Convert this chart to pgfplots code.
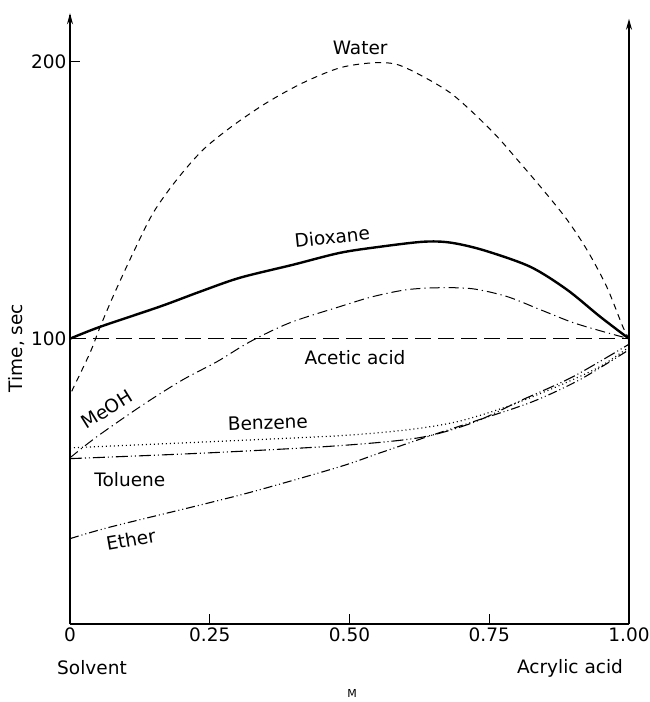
\documentclass[border=0pt]{standalone}
\usepackage{fontspec}
\setmainfont{DejaVu Sans}
\usepackage{pgfplots}
\pgfplotsset{compat=1.18}
\usetikzlibrary{arrows.meta}

\begin{document}
\begin{tikzpicture}[font=\fontsize{18.5}{20}\selectfont]
\useasboundingbox (-70pt,-78pt) rectangle (579pt,624pt);

\begin{axis}[
    at={(0,0)}, anchor=south west,
    scale only axis, width=559pt, height=609.4pt,
    xmin=0, xmax=1, ymin=-3, ymax=217,
    axis x line*=bottom, axis y line*=left,
    axis line style={line width=1.2pt},
    clip=false,
    xtick={0,0.25,0.5,0.75,1}, xticklabels={0,0.25,0.50,0.75,1.00},
    ytick={100,200}, yticklabels={100,200},
    tick align=inside, major tick length=10pt,
    tick style={line width=1pt, black},
    ticklabel style={font=\fontsize{18.5}{20}\selectfont},
    /pgf/number format/assume math mode=true,
]

% Water
\addplot[smooth, line width=1pt, dash pattern=on 6pt off 5pt] coordinates {
 (0.003,81) (0.036,95) (0.054,104.3) (0.080,116.6) (0.113,131) (0.149,145.5)
 (0.191,157.4) (0.238,168.2) (0.292,177) (0.352,185.2) (0.417,192.4)
 (0.483,197.8) (0.542,199.6) (0.585,199) (0.632,194.6) (0.680,188.8)
 (0.721,181.6) (0.764,173) (0.805,163.5) (0.846,153.8) (0.889,143)
 (0.925,132) (0.960,118.8) (0.989,104.3) (1,100)
};

% Dioxane
\addplot[smooth, line width=2.4pt] coordinates {
 (0,100) (0.054,104.3) (0.161,111.6) (0.233,117) (0.304,122) (0.399,126.7)
 (0.483,131) (0.555,133.2) (0.632,135) (0.680,134.7) (0.739,132) (0.823,126)
 (0.889,117.7) (0.948,108) (1,100)
};

% MeOH
\addplot[smooth, line width=1pt, dash pattern=on 10pt off 4pt on 1.2pt off 4pt] coordinates {
 (0,57) (0.048,64.6) (0.131,76.2) (0.202,85.2) (0.263,91.7) (0.322,98.9)
 (0.394,105.8) (0.483,111.6) (0.542,115.2) (0.603,117.7) (0.662,118.4)
 (0.721,118) (0.782,115.2) (0.841,110.5) (0.900,105.8) (0.960,102.2) (1,100)
};

% Acetic acid
\addplot[line width=1.3pt, dash pattern=on 16pt off 7pt] coordinates {
 (0,100) (1,100)
};

% Benzene
\addplot[smooth, line width=1.2pt, dash pattern=on 1pt off 3pt] coordinates {
 (0,60.6) (0.25,62.8) (0.483,65) (0.603,67.1) (0.692,70) (0.782,75.5)
 (0.871,82.7) (0.948,89.9) (1,97)
};

% Toluene
\addplot[smooth, line width=1.1pt, dash pattern=on 12pt off 3pt on 1pt off 3pt on 1pt off 3pt] coordinates {
 (0,56.7) (0.25,58.8) (0.483,61.4) (0.626,64.3) (0.721,69.7) (0.810,78)
 (0.900,86.3) (1,98)
};

% Ether
\addplot[smooth, line width=1.1pt, dash pattern=on 9pt off 3pt on 1pt off 3pt on 1pt off 3pt] coordinates {
 (0,27.8) (0.072,32) (0.25,40.8) (0.34,45.5) (0.483,53.8) (0.555,58.8)
 (0.639,64.6) (0.733,70.8) (0.828,77.3) (0.912,85.2) (1,96)
};

% axis arrows
\draw[line width=1.2pt, -{Stealth[length=11pt,width=6pt]}] (axis cs:0,-3) -- (axis cs:0,217.5);
\draw[line width=1.4pt, -{Stealth[length=11pt,width=6pt]}] (axis cs:1,-3) -- (axis cs:1,215.5);

% curve labels
\node at (axis cs:0.519,205) {Water};
\node[rotate=6] at (axis cs:0.469,136.8) {Dioxane};
\node at (axis cs:0.51,93.1) {Acetic acid};
\node[rotate=32] at (axis cs:0.066,74.5) {MeOH};
\node[rotate=2] at (axis cs:0.354,69.7) {Benzene};
\node at (axis cs:0.107,49.1) {Toluene};
\node[rotate=10] at (axis cs:0.109,27.4) {Ether};
\end{axis}

\node at (22pt,-44pt) {Solvent};
\node at (500pt,-44pt) {Acrylic acid};
\node[font=\fontsize{11}{12}\selectfont] at (282pt,-69pt) {M};
\node[rotate=90] at (-53pt,276pt) {Time, sec};
\end{tikzpicture}
\end{document}
